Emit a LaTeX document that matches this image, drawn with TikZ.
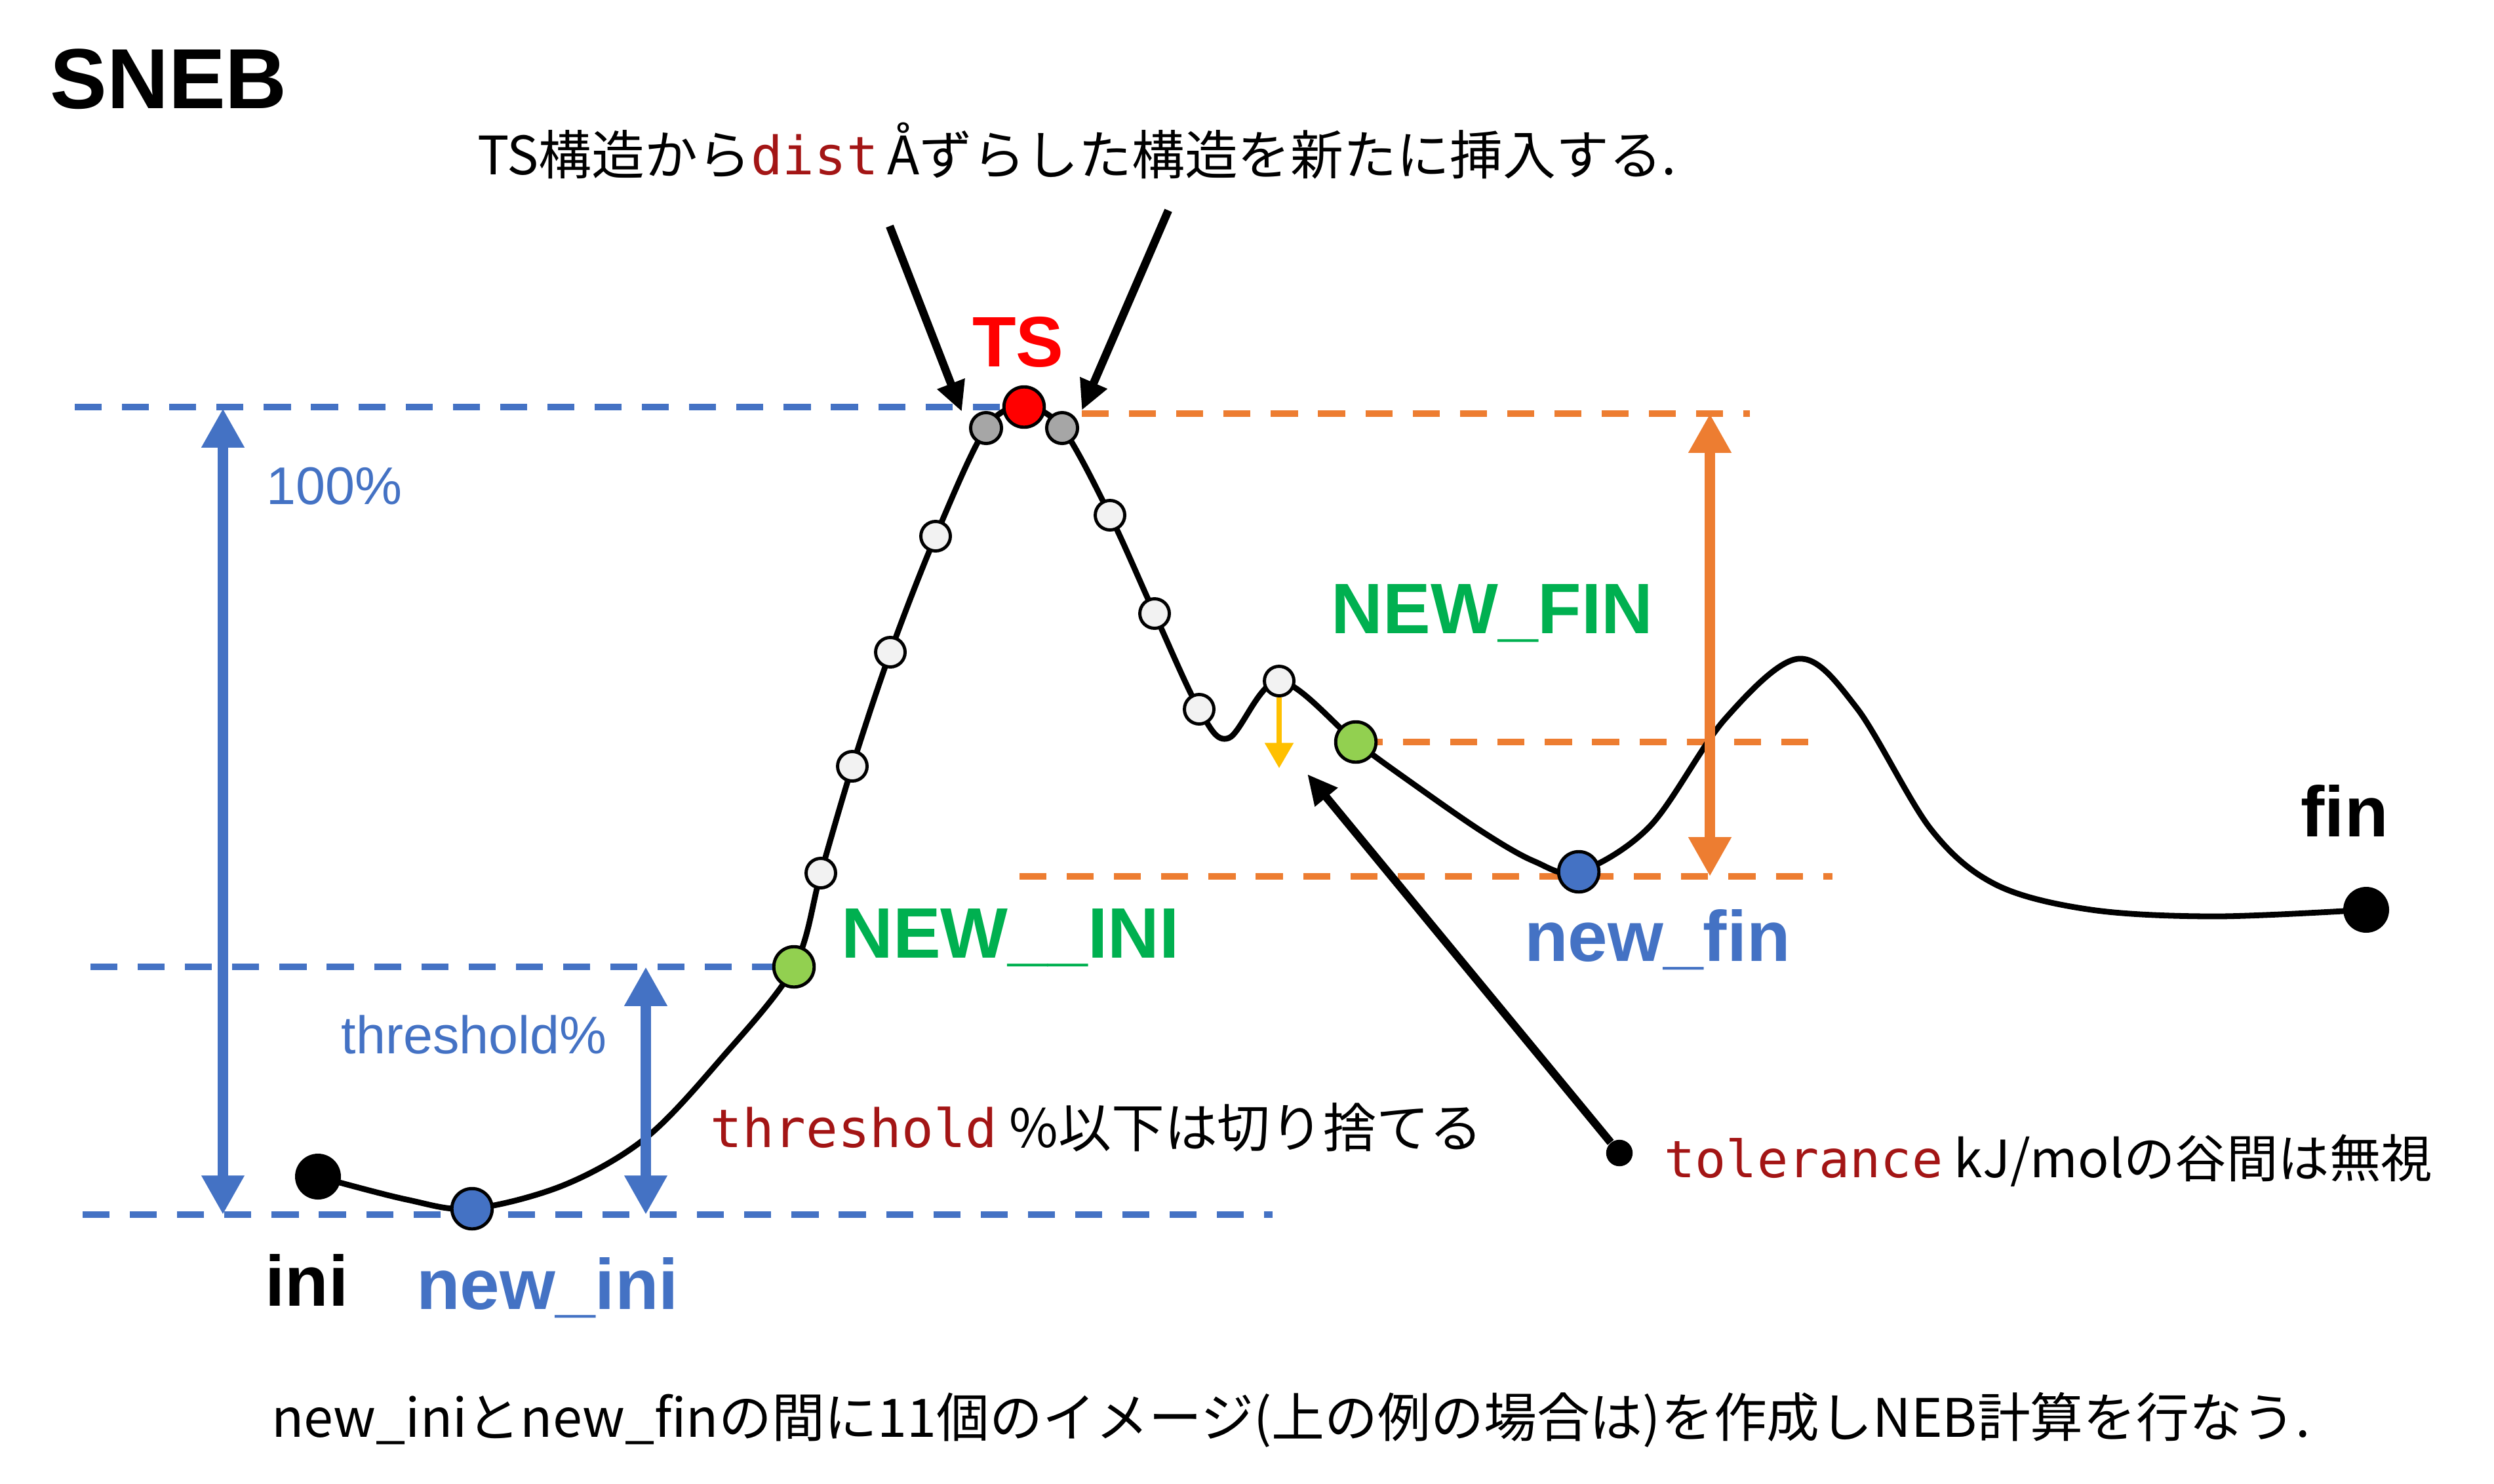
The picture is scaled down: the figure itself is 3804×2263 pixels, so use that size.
\documentclass[tikz,border=0pt]{standalone}
\usepackage{fontspec}
\setmainfont{Liberation Sans}
\newfontfamily\jpfont{Noto Sans CJK JP}
\newfontfamily\codefont{DejaVu Sans Mono}
\usetikzlibrary{arrows.meta, positioning}

\definecolor{oblue}{HTML}{4472C4}
\definecolor{oorange}{HTML}{ED7D31}
\definecolor{ogreen}{HTML}{00B050}
\definecolor{lgreen}{HTML}{92D050}
\definecolor{oyellow}{HTML}{FFC000}
\definecolor{codered}{HTML}{A31515}
\definecolor{lgray}{HTML}{A6A6A6}
\definecolor{wgray}{HTML}{F2F2F2}

\newcommand{\code}[1]{{\codefont\color{codered}#1}}

\begin{document}
\begin{tikzpicture}
[x=0.01cm, y=-0.01cm,
dot/.style={circle, draw=black, line width=1.4pt, inner sep=0pt, minimum size=17.5pt},
img/.style={dot, fill=wgray, minimum size=12.8pt},
level/.style={line width=2.8pt, dash pattern=on 11.7pt off 8.8pt},
bluearrow/.style={oblue, line width=4.8pt, {Triangle[length=17pt, width=17.5pt]}-{Triangle[length=17pt, width=17.5pt]}},
ptr/.style={line width=3.5pt, -{Triangle[length=13pt, width=12pt]}},
big/.style={font=\bfseries\fontsize{31}{36}\selectfont},
lab/.style={font=\fontsize{23}{26}\selectfont},
jp/.style={font=\jpfont\fontsize{23}{26}\selectfont}
]
    \useasboundingbox (0,0) rectangle (3804,2263);

    % points of the path
    \coordinate (ini) at (485,1795);
    \coordinate (c1) at (620,1830);
    \coordinate (newini) at (720,1844);
    \coordinate (c2) at (860,1808);
    \coordinate (c3) at (985,1736);
    \coordinate (c4) at (1100,1615);
    \coordinate (NEWINI) at (1211,1475);
    \coordinate (i1) at (1252,1332);
    \coordinate (i2) at (1300,1169);
    \coordinate (i3) at (1358,995);
    \coordinate (i4) at (1427,818);
    \coordinate (g1) at (1504,653);
    \coordinate (ts) at (1562,621);
    \coordinate (g2) at (1620,653);
    \coordinate (i5) at (1693,786);
    \coordinate (i6) at (1761,936);
    \coordinate (i7) at (1829,1082);
    \coordinate (c5) at (1874,1126);
    \coordinate (i8) at (1951,1039);
    \coordinate (NEWFIN) at (2068,1132);
    \coordinate (d1) at (2143,1187);
    \coordinate (d2) at (2258,1267);
    \coordinate (d3) at (2340,1314);
    \coordinate (newfin) at (2408,1330);
    \coordinate (d4) at (2517,1260);
    \coordinate (d5) at (2631,1097);
    \coordinate (d6) at (2743,1005);
    \coordinate (d7) at (2832,1080);
    \coordinate (d8) at (2945,1265);
    \coordinate (d9) at (3045,1350);
    \coordinate (d10) at (3190,1388);
    \coordinate (d11) at (3380,1398);
    \coordinate (fin) at (3609,1388);

    % level lines
    \coordinate (b1s) at (114,621);
    \coordinate (b2s) at (138,1475);
    \coordinate (b3s) at (126,1853);
    \coordinate (b3e) at (1941,1853);
    \coordinate (o1s) at (1650,631);
    \coordinate (o1e) at (2669,631);
    \coordinate (o2e) at (2758,1132);
    \coordinate (o3s) at (1555,1337);
    \coordinate (o3e) at (2795,1337);
    \draw[level, oblue] (b1s) -- (ts);
    \draw[level, oblue] (b2s) -- (NEWINI);
    \draw[level, oblue] (b3s) -- (b3e);
    \draw[level, oorange] (o1s) -- (o1e);
    \draw[level, oorange] (NEWFIN) -- (o2e);
    \draw[level, oorange] (o3s) -- (o3e);

    \draw[line width=2.5pt] plot[smooth, tension=0.55] coordinates {(ini) (c1) (newini) (c2) (c3) (c4) (NEWINI)
        (i1) (i2) (i3) (i4) (g1) (ts) (g2) (i5) (i6) (i7) (c5) (i8) (NEWFIN) (d1) (d2) (d3) (newfin)
        (d4) (d5) (d6) (d7) (d8) (d9) (d10) (d11) (fin)};

    % energy arrows
    \coordinate (full top) at (340,623);
    \coordinate (full bot) at (340,1853);
    \coordinate (thr top) at (985,1475);
    \coordinate (thr bot) at (985,1853);
    \coordinate (bar top) at (2608,631);
    \coordinate (bar bot) at (2608,1337);
    \draw[bluearrow] (full top) -- (full bot);
    \draw[bluearrow] (thr top) -- (thr bot);
    \draw[bluearrow, oorange] (bar top) -- (bar bot);

    % images on the path
    \node[dot, fill=black, minimum size=18.5pt] (n ini) at (ini) {};
    \node[dot, fill=black, minimum size=18.5pt] (n fin) at (fin) {};
    \node[dot, fill=oblue] (n newini) at (newini) {};
    \node[dot, fill=oblue] (n newfin) at (newfin) {};
    \node[dot, fill=lgreen] (n NEWINI) at (NEWINI) {};
    \node[dot, fill=lgreen] (n NEWFIN) at (NEWFIN) {};
    \node[dot, fill=red] (n ts) at (ts) {};
    \node[img, fill=lgray, minimum size=13.4pt] (n g1) at (g1) {};
    \node[img, fill=lgray, minimum size=13.4pt] (n g2) at (g2) {};
    \foreach \p in {i1,i2,i3,i4,i5,i6,i7,i8}
        \node[img] (n \p) at (\p) {};

    \coordinate (yel) at (1951,1172);
    \draw[oyellow, line width=2.3pt, -{Triangle[length=11pt, width=12pt]}] (n i8.south) -- (yel);

    % pointers
    \coordinate (ptrL) at (1357,345);
    \coordinate (tipL) at (1467,628);
    \coordinate (ptrR) at (1782,321);
    \coordinate (tipR) at (1650,626);
    \draw[ptr] (ptrL) -- (tipL);
    \draw[ptr] (ptrR) -- (tipR);
    \node[circle, fill=black, inner sep=0pt, minimum size=11.5pt] (tol) at (2470,1759) {};
    \coordinate (tolend) at (1994,1181);
    \draw[ptr] (tol) -- (tolend);

    % labels
    \node[anchor=west, font=\bfseries\fontsize{37}{42}\selectfont] (title) at (64,121) {SNEB};
    \node[jp] (insert) at (1643,230) {TS構造から\code{dist}\,Åずらした構造を新たに挿入する.};
    \node[big, red] (ts label) at (1553,522) {TS};
    \node[big, ogreen] (NEWFIN label) at (2276,936) {NEW\_FIN};
    \node[big, ogreen] (NEWINI label) at (1541,1431) {NEW\_\_INI};
    \node[big, oblue] (newfin label) at (2528,1434) {new\_fin};
    \node[big, oblue] (newini label) at (835,1965) {new\_ini};
    \node[big] (ini label) at (468,1953) {ini};
    \node[big] (fin label) at (3576,1237) {fin};
    \node[lab, oblue] (full label) at (510,742) {100\%};
    \node[lab, oblue] (thr label) at (723,1579) {threshold\%};
    \node[jp, anchor=west] (cut) at (1071,1720) {\code{threshold} \%以下は切り捨てる};
    \node[jp, anchor=west, font=\jpfont\fontsize{22.3}{26}\selectfont] (tol label) at (2526,1771) {\code{tolerance} kJ/molの谷間は無視};
    \node[jp] (summary) at (1969,2166) {new\_iniとnew\_finの間に11個のイメージ(上の例の場合は)を作成しNEB計算を行なう.};
\end{tikzpicture}
\end{document}
